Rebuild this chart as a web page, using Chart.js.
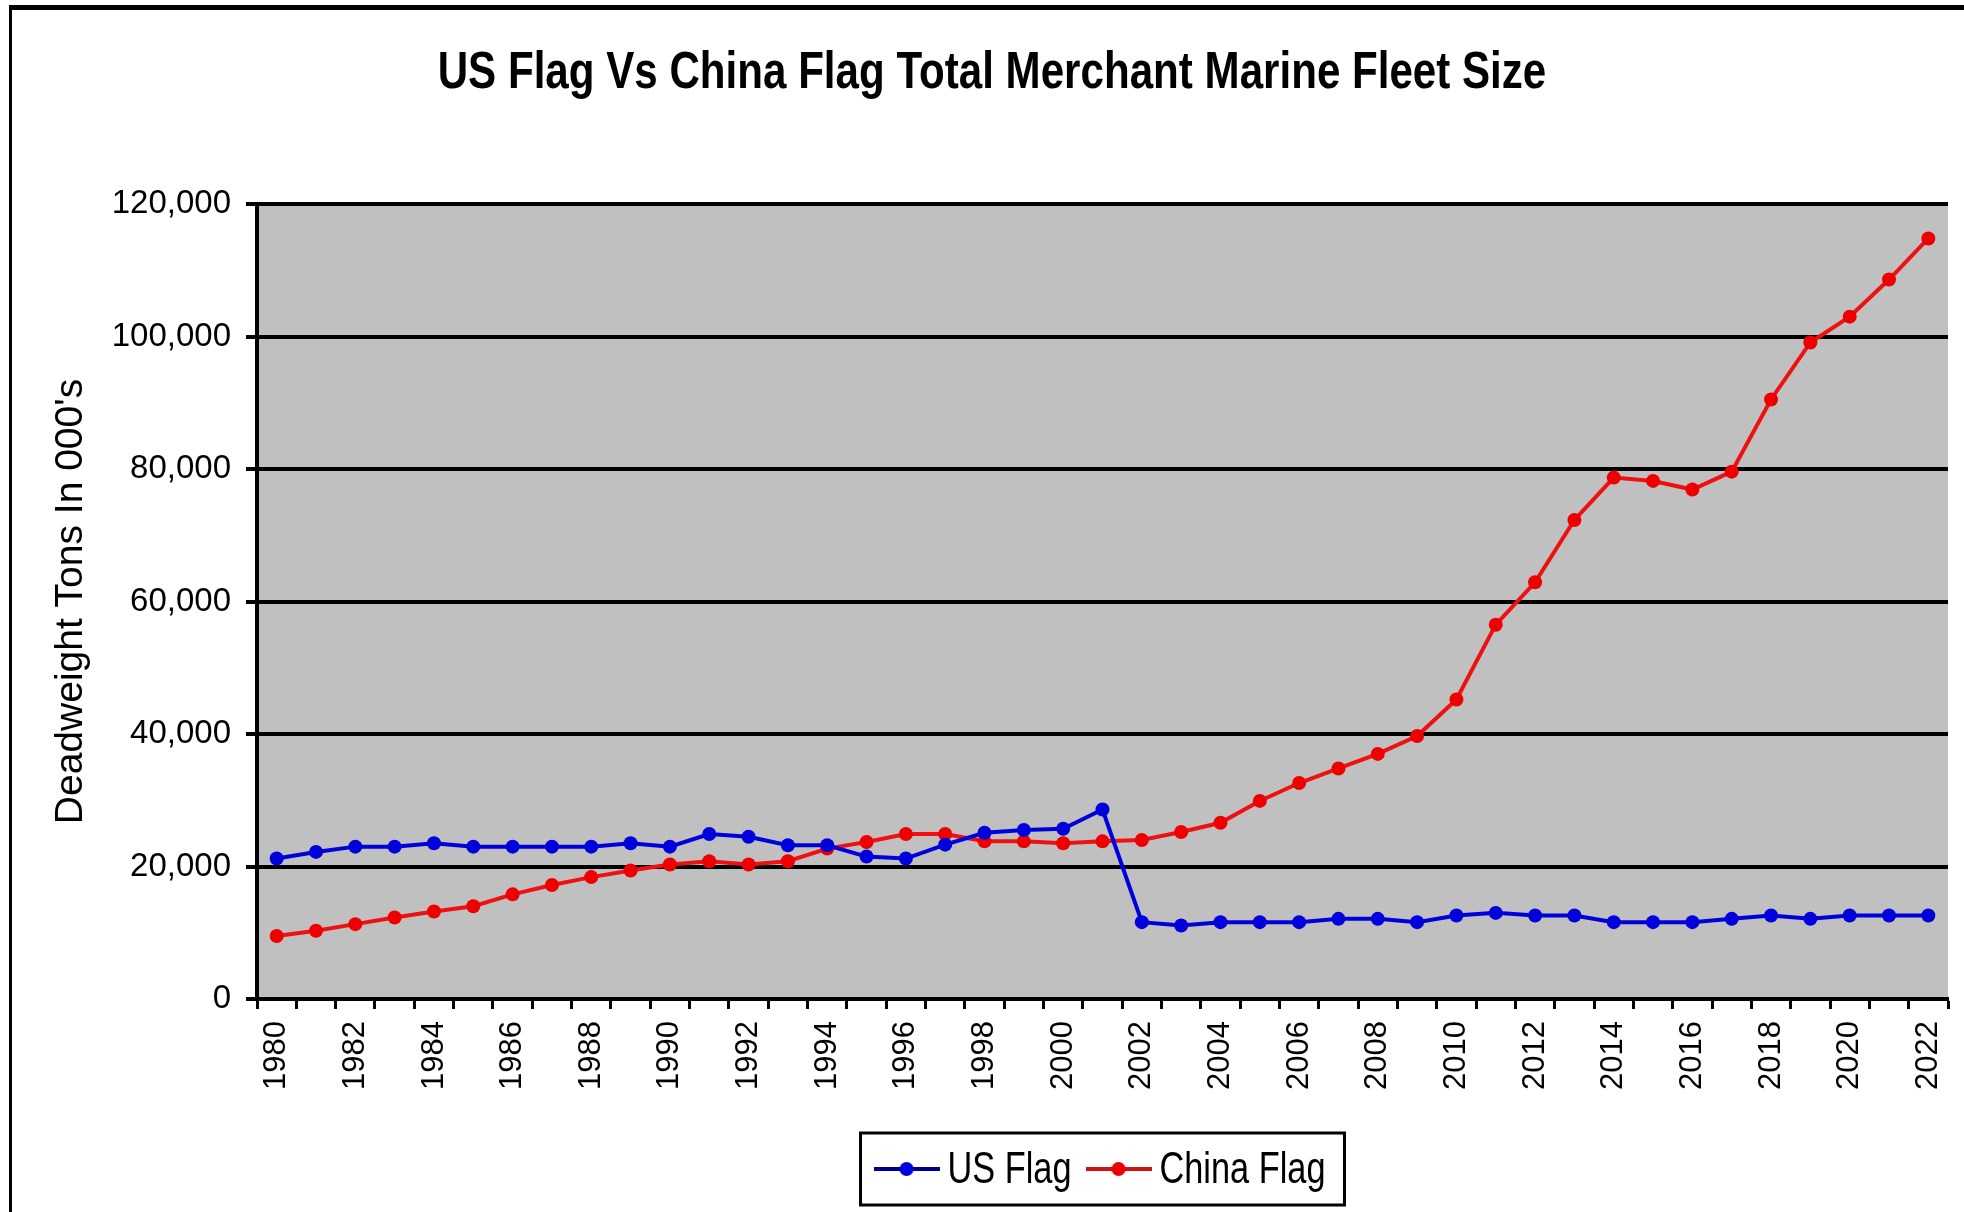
<!DOCTYPE html>
<html>
<head>
<meta charset="utf-8">
<script src="https://cdn.jsdelivr.net/npm/chart.js@4.4.1/dist/chart.umd.min.js"></script>
<style>
    body { margin: 0; background: #fff; }
    #wrap { position: relative; width: 1964px; height: 1212px; overflow: hidden; }
    #frame {
        position: absolute; left: 9px; top: 5px; width: 2000px; height: 2000px;
        border-top: 5px solid #000; border-left: 3px solid #000; pointer-events: none;
    }
</style>
</head>
<body>
<div id="wrap">
    <canvas id="myChart" width="1964" height="1212"></canvas>
    <div id="frame"></div>
</div>
<script>
// Years on the x axis
const years = ['1980', '1981', '1982', '1983', '1984', '1985', '1986', '1987', '1988', '1989',
    '1990', '1991', '1992', '1993', '1994', '1995', '1996', '1997', '1998', '1999',
    '2000', '2001', '2002', '2003', '2004', '2005', '2006', '2007', '2008', '2009',
    '2010', '2011', '2012', '2013', '2014', '2015', '2016', '2017', '2018', '2019',
    '2020', '2021', '2022'];

// Deadweight tons in 000's
const usFlag = [21200, 22200, 23000, 23000, 23500, 23000, 23000, 23000, 23000, 23500,
    23000, 24900, 24500, 23200, 23200, 21500, 21200, 23300, 25100, 25500,
    25700, 28600, 11600, 11100, 11600, 11600, 11600, 12100, 12100, 11600,
    12600, 13000, 12600, 12600, 11600, 11600, 11600, 12100, 12600, 12100,
    12600, 12600, 12600];
const chinaFlag = [9500, 10300, 11300, 12300, 13200, 14000, 15800, 17200, 18400, 19400,
    20300, 20800, 20300, 20800, 22700, 23700, 24900, 24900, 23800, 23800,
    23500, 23800, 24000, 25200, 26600, 29900, 32600, 34800, 37000, 39700,
    45200, 56500, 62900, 72300, 78700, 78200, 76900, 79600, 90500, 99100,
    103000, 108600, 114800];

// y axis ticks
const yTicks = [0, 20000, 40000, 60000, 80000, 100000, 120000];

const titleText = 'US Flag Vs China Flag Total Merchant Marine Fleet Size';
const sans = "'Liberation Sans', Arial, sans-serif";

// legend symbol: short line with a dot in the middle
function legendSymbol(lineColor, dotColor) {
    const c = document.createElement('canvas');
    c.width = 66; c.height = 16;
    const g = c.getContext('2d');
    g.strokeStyle = lineColor;
    g.lineWidth = 4;
    g.beginPath(); g.moveTo(0, 8); g.lineTo(66, 8); g.stroke();
    g.fillStyle = dotColor;
    g.beginPath(); g.arc(33, 8, 7, 0, Math.PI * 2); g.fill();
    return c;
}
const symbols = [legendSymbol('#00008C', '#0000DD'), legendSymbol('#CC1515', '#EE0000')];

// gray plot background
const plotBg = {
    id: 'plotBg',
    beforeDraw(chart) {
        const {ctx, chartArea: a} = chart;
        ctx.save();
        ctx.fillStyle = '#C0C0C0';
        ctx.fillRect(a.left, a.top, a.right - a.left, a.bottom - a.top);
        ctx.restore();
    }
};

// condensed bold title (the original uses a narrow face)
const narrowTitle = {
    id: 'narrowTitle',
    afterDraw(chart) {
        const ctx = chart.ctx;
        ctx.save();
        ctx.font = 'bold 52px ' + sans;
        ctx.fillStyle = '#000';
        ctx.textAlign = 'center';
        ctx.textBaseline = 'alphabetic';
        ctx.translate(chart.width / 2 + 10, 88);
        ctx.scale(0.81, 1);
        ctx.fillText(titleText, 0, 0);
        ctx.restore();
    }
};

// boxed legend under the plot, condensed text
const boxLegend = {
    id: 'boxLegend',
    afterDraw(chart) {
        const ctx = chart.ctx;
        const a = chart.chartArea;
        const sx = 0.78;
        ctx.save();
        ctx.font = '44px ' + sans;
        const items = chart.data.datasets.map((ds, i) => ({
            text: ds.label,
            w: ctx.measureText(ds.label).width * sx,
            sym: symbols[i],
        }));
        const symW = 66, gapSym = 8, gapItem = 14, padL = 13, padR = 19;
        let total = padL + padR + gapItem * (items.length - 1);
        items.forEach(it => { total += symW + gapSym + it.w; });
        const top = chart.height - 79;
        const midY = top + 36;
        const x0 = (a.left + a.right) / 2 - total / 2;
        ctx.strokeStyle = '#000';
        ctx.lineWidth = 3;
        ctx.strokeRect(x0, top, total, 72);
        ctx.fillStyle = '#000';
        ctx.textBaseline = 'alphabetic';
        let x = x0 + padL;
        items.forEach(it => {
            ctx.drawImage(it.sym, x, midY - 8);
            x += symW + gapSym;
            ctx.save();
            ctx.translate(x, midY + 14);
            ctx.scale(sx, 1);
            ctx.fillText(it.text, 0, 0);
            ctx.restore();
            x += it.w + gapItem;
        });
        ctx.restore();
    }
};

const ctx = document.getElementById('myChart').getContext('2d');
const myChart = new Chart(ctx, {
    type: 'line',
    data: {
        labels: years,
        datasets: [{
            label: 'US Flag',
            data: usFlag,
            borderColor: '#0000DD',
            backgroundColor: '#0000DD',
            borderWidth: 4,
            pointRadius: 7,
            pointBorderWidth: 0,
            tension: 0,
        }, {
            label: 'China Flag',
            data: chinaFlag,
            borderColor: '#EE1111',
            backgroundColor: '#EE0000',
            borderWidth: 4,
            pointRadius: 7,
            pointBorderWidth: 0,
            tension: 0,
        }]
    },
    options: {
        responsive: false,
        animation: false,
        layout: {
            padding: {top: 204, left: 20, right: 16, bottom: 97},
        },
        plugins: {
            title: {display: false},
            legend: {display: false},
            tooltip: {enabled: false},
        },
        scales: {
            x: {
                offset: true,
                afterFit(scale) {
                    scale.height = 116;
                    scale.paddingRight = 0;
                    scale.paddingLeft = 0;
                },
                grid: {
                    offset: true,
                    drawOnChartArea: false,
                    drawTicks: true,
                    tickLength: 10,
                    tickColor: '#000',
                    tickWidth: 3,
                    color: '#000',
                },
                border: {color: '#000', width: 4},
                ticks: {
                    autoSkip: false,
                    minRotation: 90,
                    maxRotation: 90,
                    padding: 12,
                    color: '#000',
                    font: {family: sans, size: 31},
                    callback(value, index) {
                        return index % 2 === 0 ? years[index] : '';
                    },
                },
            },
            y: {
                min: yTicks[0],
                max: yTicks[yTicks.length - 1],
                afterFit(scale) { scale.width = 237; },
                afterBuildTicks(scale) {
                    scale.ticks = yTicks.map(v => ({value: v}));
                },
                grid: {
                    color: '#000',
                    lineWidth: 4,
                    tickLength: 11,
                    tickColor: '#000',
                    tickWidth: 4,
                },
                border: {color: '#000', width: 4},
                ticks: {
                    padding: 15,
                    color: '#000',
                    font: {family: sans, size: 33},
                    callback(value) {
                        return value.toLocaleString('en-US');
                    },
                },
                title: {
                    display: true,
                    text: "Deadweight Tons In 000's",
                    color: '#000',
                    font: {family: sans, size: 39},
                    padding: {top: 28, bottom: 10},
                },
            },
        },
    },
    plugins: [plotBg, narrowTitle, boxLegend],
});
</script>
</body>
</html>
